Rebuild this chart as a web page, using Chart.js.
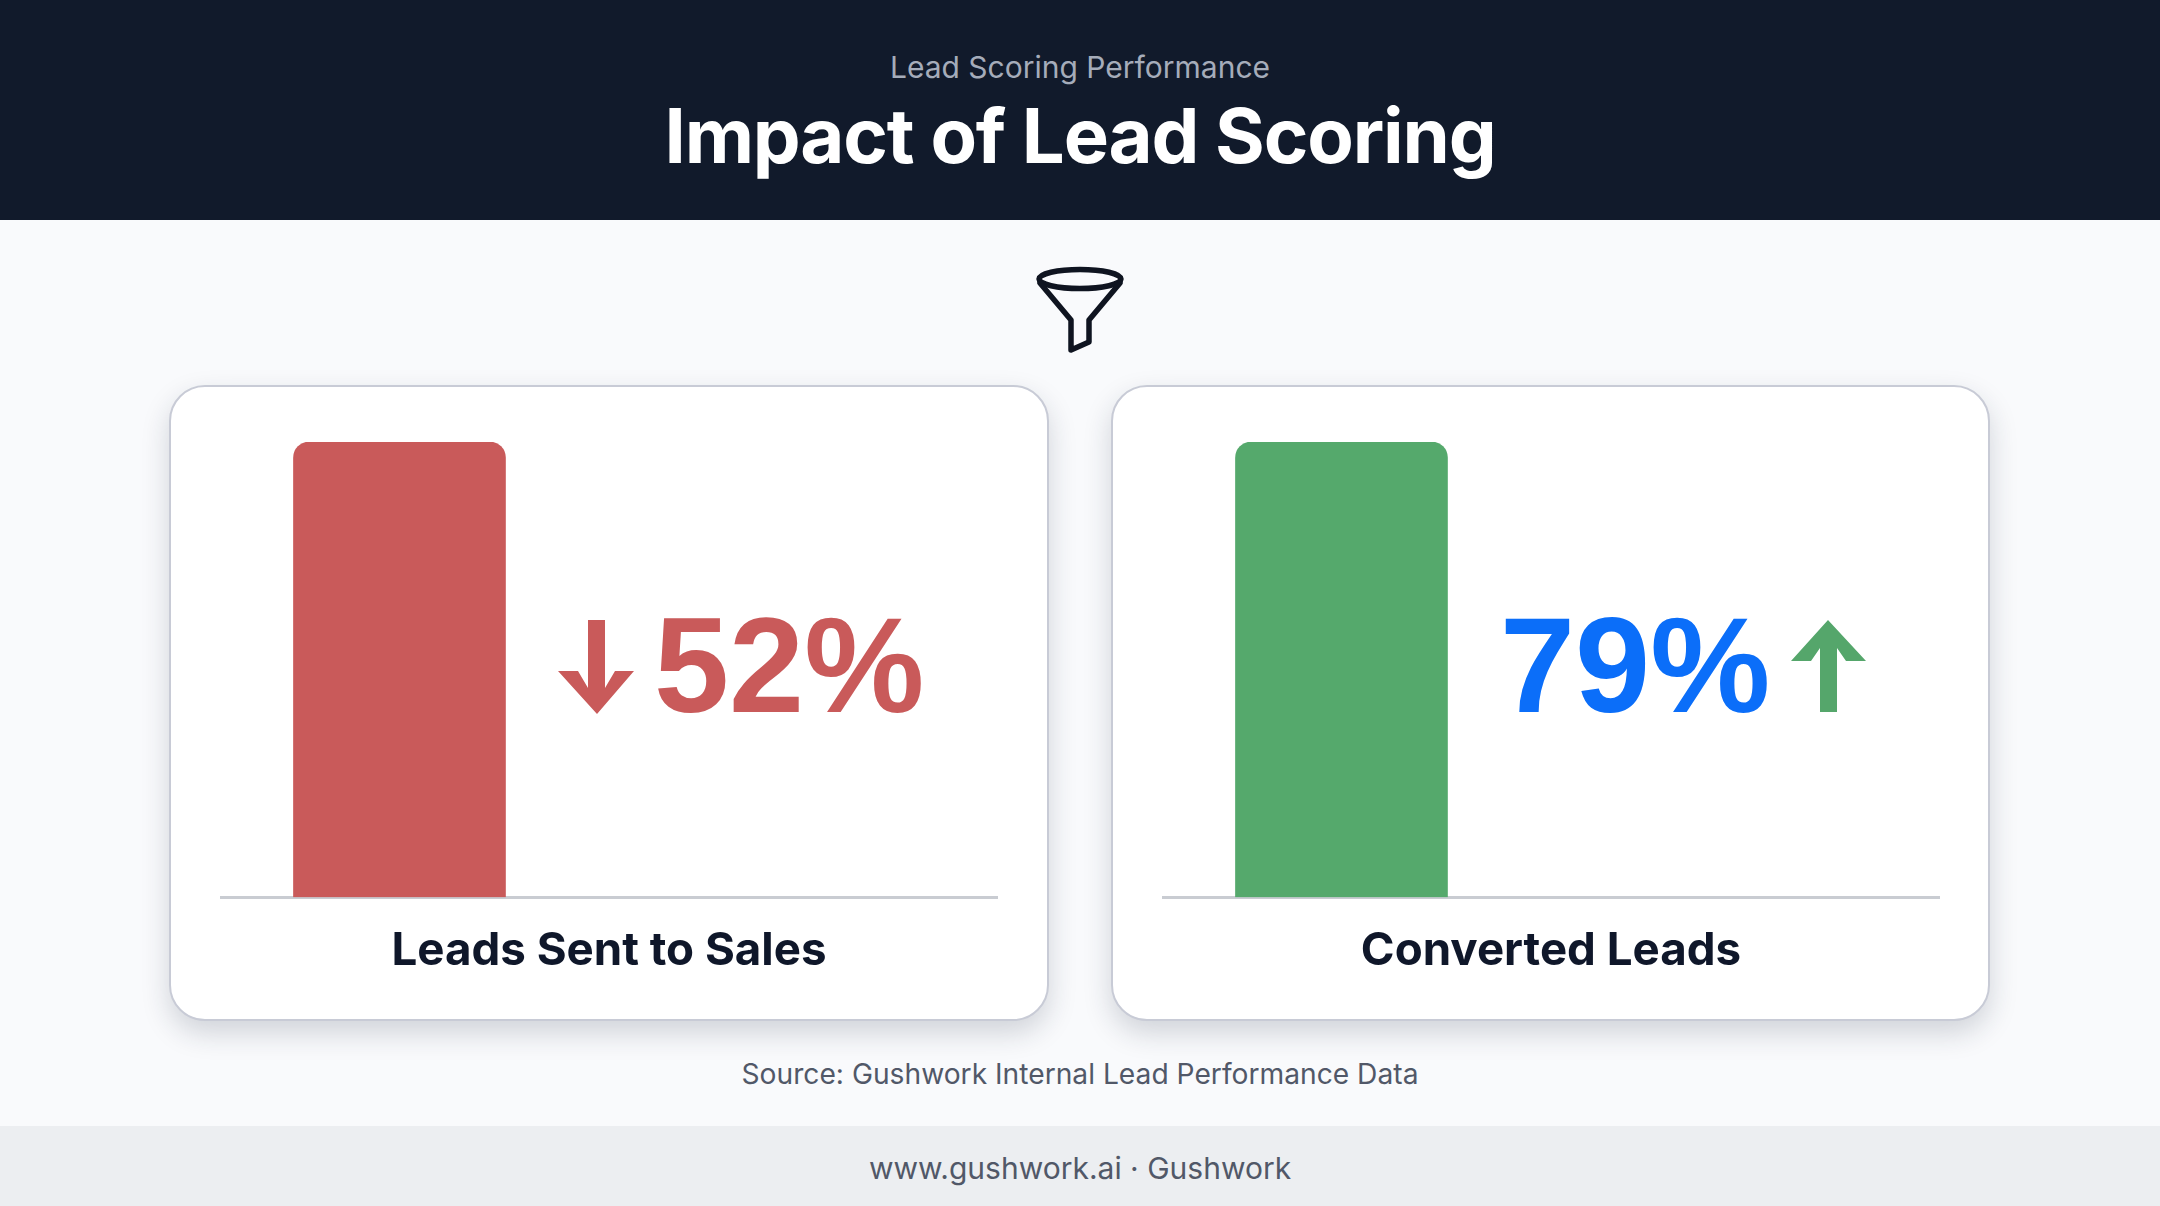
<!DOCTYPE html>
<html>
<head>
<meta charset="utf-8">
<title>Impact of Lead Scoring</title>
<script src="https://cdn.jsdelivr.net/npm/chart.js@4"></script>
<style>
	html, body { margin: 0; padding: 0; }
	body { width: 2160px; height: 1206px; position: relative; overflow: hidden; background: #f9fafc; font-family: Inter, sans-serif; }
	.txt { position: absolute; white-space: nowrap; text-align: center; }
	#head { position: absolute; left: 0; top: 0; width: 2160px; height: 220px; background: #111a2b; }
	#foot { position: absolute; left: 0; top: 1126px; width: 2160px; height: 80px; background: #eceef1; }
	.card { position: absolute; top: 385px; width: 879px; height: 636px; box-sizing: border-box; background: #fff; border: 2px solid #c8cbd6; border-radius: 36px; box-shadow: 0 12px 28px rgba(30, 40, 60, 0.18); }
	.card canvas { position: absolute; left: -2px; top: -2px; }
	.stat { font-family: "Liberation Sans", sans-serif; font-size: 135px; font-weight: 700; line-height: 137px; }
	svg { position: absolute; left: 0; top: 0; }
</style>
</head>
<body>
<div id="head"></div>
<div id="foot"></div>
<div class="txt" style="left:0;width:2160px;top:48px;font-size:30px;line-height:38px;color:#a5acba">Lead Scoring Performance</div>
<div class="txt" style="left:0;width:2160px;top:89px;font-size:76px;line-height:92px;font-weight:700;letter-spacing:-1.15px;color:#fff">Impact of Lead Scoring</div>

<div class="card" id="card0" style="left:169px;width:880px"><canvas id="chart0" width="879" height="636"></canvas></div>
<div class="card" id="card1" style="left:1111px"><canvas id="chart1" width="879" height="636"></canvas></div>

<div class="txt stat" id="stat0" style="left:654px;top:597px;color:#c95a5a"></div>
<div class="txt stat" id="stat1" style="left:1500px;top:597px;color:#0b6ef9"></div>

<div class="txt" style="left:0;width:2160px;top:1055px;font-size:28.2px;line-height:38px;color:#515868">Source: Gushwork Internal Lead Performance Data</div>
<div class="txt" style="left:0;width:2160px;top:1149px;font-size:30px;line-height:38px;color:#515868">www.gushwork.ai · Gushwork</div>

<svg width="2160" height="1206">
	<!-- funnel -->
	<g fill="none" stroke="#0f1420" stroke-width="5.5" stroke-linejoin="round" stroke-linecap="round">
		<ellipse cx="1080" cy="279" rx="41" ry="9.5"></ellipse>
		<path d="M1040 283 L1071 320 L1071 350 L1089 342 L1089 320 L1120 283"></path>
	</g>
	<polygon fill="#c95a5a" points="588,620 605,620 605,688 615,671 634,671 597,714 558,671 578,671 588,688"></polygon>
	<polygon fill="#55a66b" points="1828,620 1866,661 1846,661 1837,648 1837,712 1820,712 1820,648 1811,661 1791,661"></polygon>
</svg>

<script>
// chart values
var categories  = ["Leads Sent to Sales", "Converted Leads"];
var barValues   = [100, 100];
var changeValues = [52, 79];
var barColors   = ["#c95a5a", "#55a96c"];

document.getElementById("stat0").textContent = changeValues[0] + "%";
document.getElementById("stat1").textContent = changeValues[1] + "%";

categories.forEach(function (name, i)
{
	new Chart(document.getElementById("chart" + i).getContext("2d"), {
		type: "bar",
		data: {
			datasets: [{
				data: [{x: 0, y: barValues[i]}],
				backgroundColor: barColors[i],
				barThickness: 212,
				borderRadius: {topLeft: 16, topRight: 16},
				borderSkipped: "bottom"
			}]
		},
		options: {
			responsive: false,
			animation: false,
			layout: {padding: {left: 52, right: 51, top: 57, bottom: 42}},
			plugins: {legend: {display: false}, tooltip: {enabled: false}},
			scales: {
				x: {
					type: "linear",
					offset: false,
					min: -0.23,
					max: 0.77,
					grid: {display: false},
					border: {color: "#c9ccd2", width: 3},
					ticks: {display: false},
					title: {
						display: true,
						text: name,
						color: "#0f172a",
						font: {family: "Inter", size: 45.7, weight: "700"},
						padding: {top: 19, bottom: 0}
					}
				},
				y: {display: false, min: 0, max: 100}
			}
		}
	});
});
</script>
</body>
</html>
